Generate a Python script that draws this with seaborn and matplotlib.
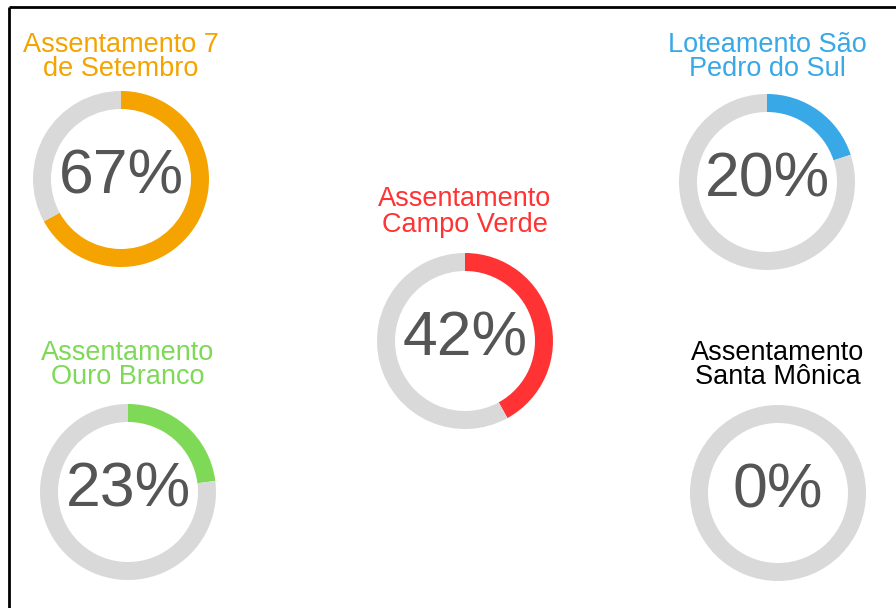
import matplotlib
matplotlib.use('Agg')
import seaborn as sns
import matplotlib.pyplot as plt

# data
names = ['Assentamento 7\nde Setembro', 'Loteamento São\nPedro do Sul',
         'Assentamento\nCampo Verde', 'Assentamento\nOuro Branco',
         'Assentamento\nSanta Mônica']
percents = [67, 20, 42, 23, 0]
colors = ['#F4A300', '#38A8E6', '#FF3333', '#7ED957', '#D9D9D9']
label_colors = ['#F4A300', '#38A8E6', '#FF3333', '#7ED957', '#000000']

# layout (pixels, origin top-left)
W, H = 896, 608
centers = [(121, 179), (767, 182), (465, 341), (128, 492), (778, 493)]
title_y = [57, 57, 212, 365, 365]
RADIUS = 88
RING = 18

sns.set_theme(style='white')
plt.rcParams['font.family'] = ['Liberation Sans', 'DejaVu Sans']

fig = plt.figure(figsize=(W / 100, H / 100), dpi=100)
ax = fig.add_axes([0, 0, 1, 1])

for name, pct, col, lcol, (cx, cy), ty in zip(names, percents, colors,
                                               label_colors, centers, title_y):
    ax.pie([pct, 100 - pct], colors=[col, '#D9D9D9'], radius=RADIUS,
           center=(cx, H - cy), startangle=90, counterclock=False,
           wedgeprops=dict(width=RING, linewidth=0), frame=True)
    ax.text(cx, H - cy + 2, f'{pct}%', ha='center', va='center',
            fontsize=45, color='#555555')
    ax.text(cx, H - ty, name, ha='center', va='center', fontsize=19.5,
            color=lcol, linespacing=0.95)

ax.set_xlim(0, W)
ax.set_ylim(0, H)
ax.set_aspect('equal')
ax.axis('off')

# frame lines
ax.plot([9, 9], [0, H - 7], color='black', lw=2, solid_capstyle='butt')
ax.plot([9, W], [H - 7, H - 7], color='black', lw=2, solid_capstyle='butt')

fig.savefig('out.png', dpi=100)
